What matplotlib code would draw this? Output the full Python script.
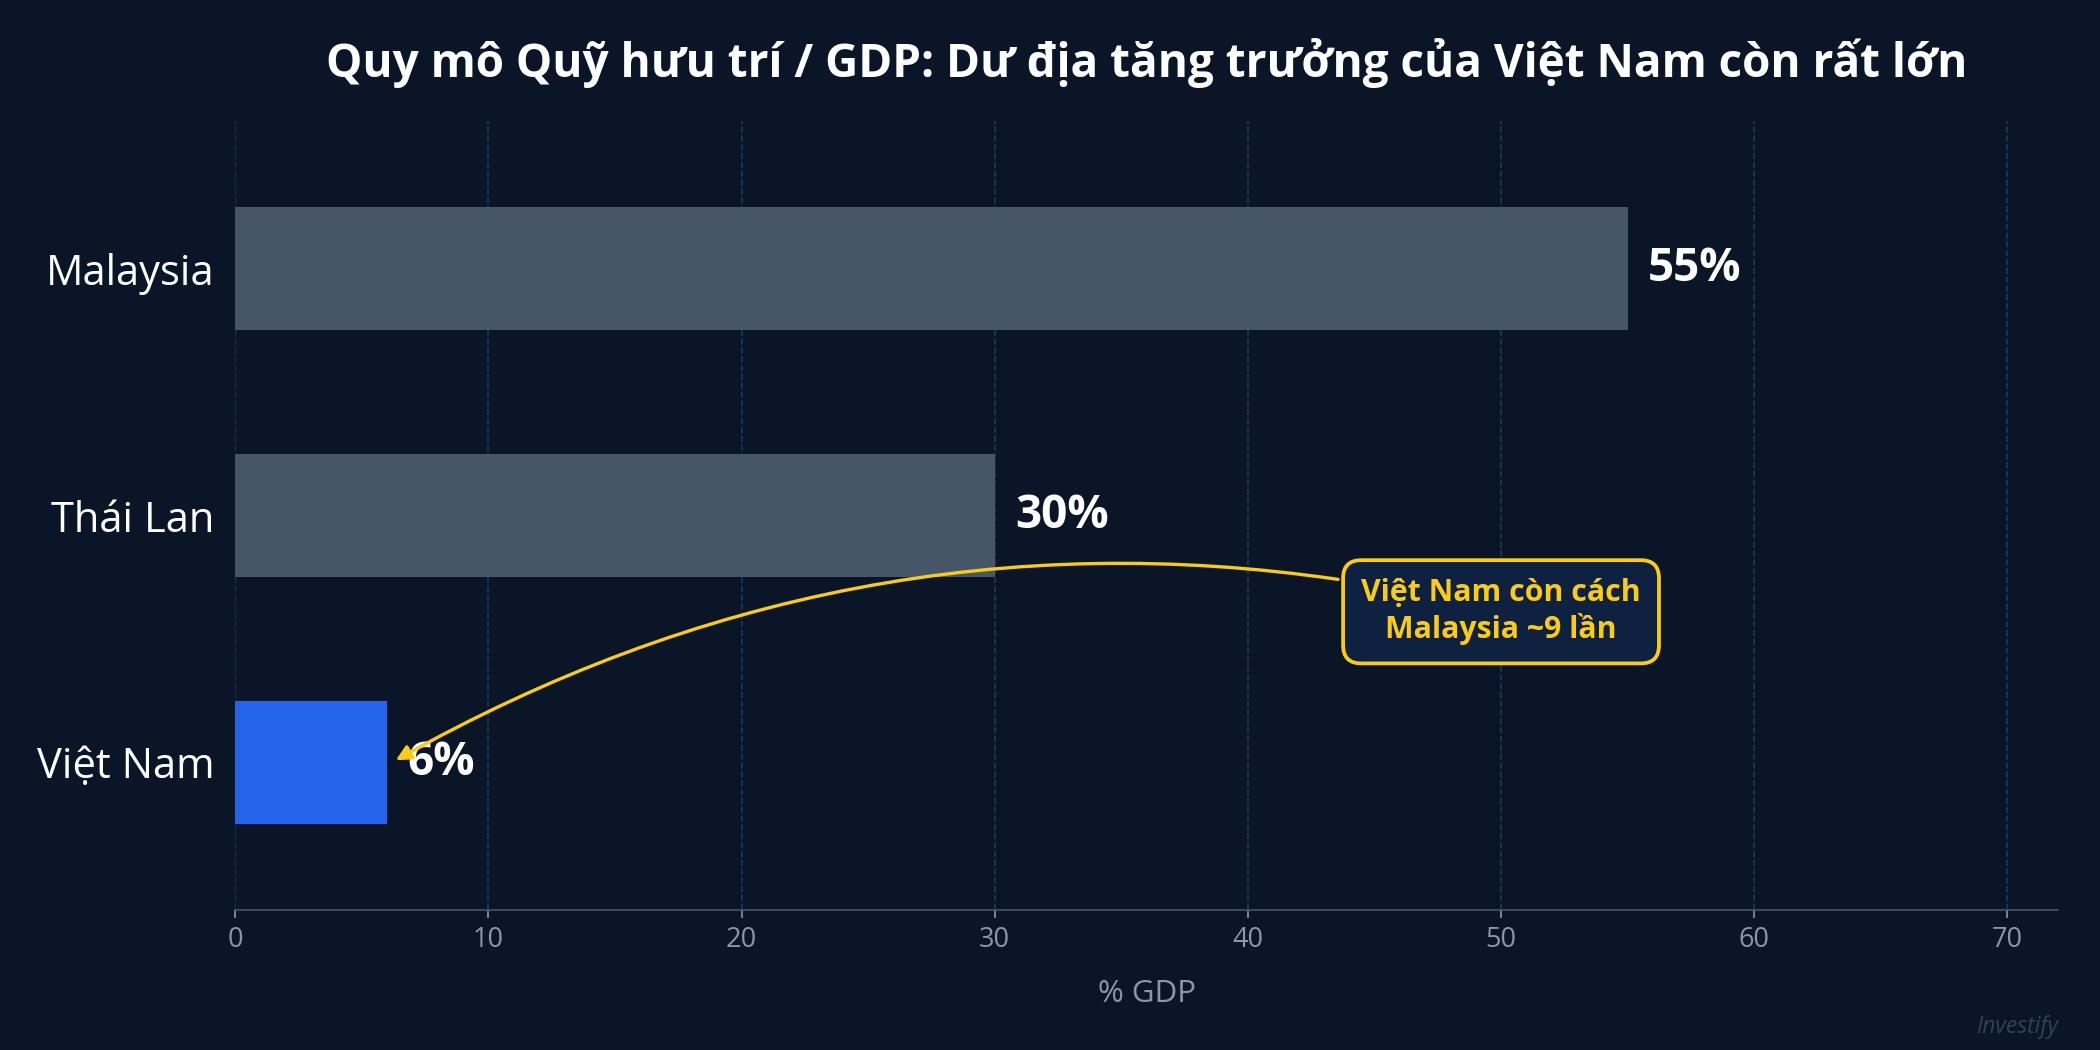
import matplotlib.pyplot as plt

plt.rcParams['font.family'] = ['Open Sans', 'Noto Sans', 'DejaVu Sans']

countries = ["Việt Nam", "Thái Lan", "Malaysia"]
values = [6, 30, 55]
colors = ["#2563eb", "#475569", "#475569"]
labels = ["6%", "30%", "55%"]

bg = "#0a1628"
fig = plt.figure(figsize=(14, 7), dpi=150, facecolor=bg)
ax = fig.add_axes([0.112, 0.133, 0.868, 0.752], facecolor=bg)

ax.barh(range(len(countries)), values, height=0.5, color=colors, zorder=3)
for i, (v, lab) in enumerate(zip(values, labels)):
    ax.text(v + 0.8, i, lab, va="center", ha="left", color="white",
            fontsize=22, fontweight="bold", zorder=4)

ax.set_xlim(0, 72)
ax.set_ylim(-0.6, 2.6)
ax.set_yticks(range(len(countries)))
ax.set_yticklabels(countries, color="white", fontsize=20)
ax.set_xticks(range(0, 71, 10))
ax.tick_params(axis="x", colors="#8a97a8", labelsize=13, length=4)
ax.tick_params(axis="y", length=0, pad=10)
ax.grid(axis="x", color="#1e3a5f", linestyle="--", linewidth=0.8, zorder=0)
for s in ["top", "right", "left"]:
    ax.spines[s].set_visible(False)
ax.spines["bottom"].set_color("#475569")
ax.set_xlabel("% GDP", color="#8a97a8", fontsize=15, labelpad=12)

fig.text(0.546, 0.94, "Quy mô Quỹ hưu trí / GDP: Dư địa tăng trưởng của Việt Nam còn rất lớn",
         ha="center", va="center", color="white", fontsize=22, fontweight="bold")

ax.annotate("Việt Nam còn cách\nMalaysia ~9 lần", xy=(6.2, 0.0), xytext=(50, 0.61),
            ha="center", va="center", color="#facc15", fontsize=14.5, fontweight="bold",
            bbox=dict(boxstyle="round,pad=0.6", fc="#0f2140", ec="#facc15", lw=1.8),
            arrowprops=dict(arrowstyle="-|>", color="#facc15", lw=1.6,
                            connectionstyle="arc3,rad=0.2", mutation_scale=15),
            zorder=5)

fig.text(0.98, 0.022, "Investify", ha="right", va="center", color="#334155",
         fontsize=11, style="italic")

fig.savefig("out.png", dpi=150, facecolor=bg)
